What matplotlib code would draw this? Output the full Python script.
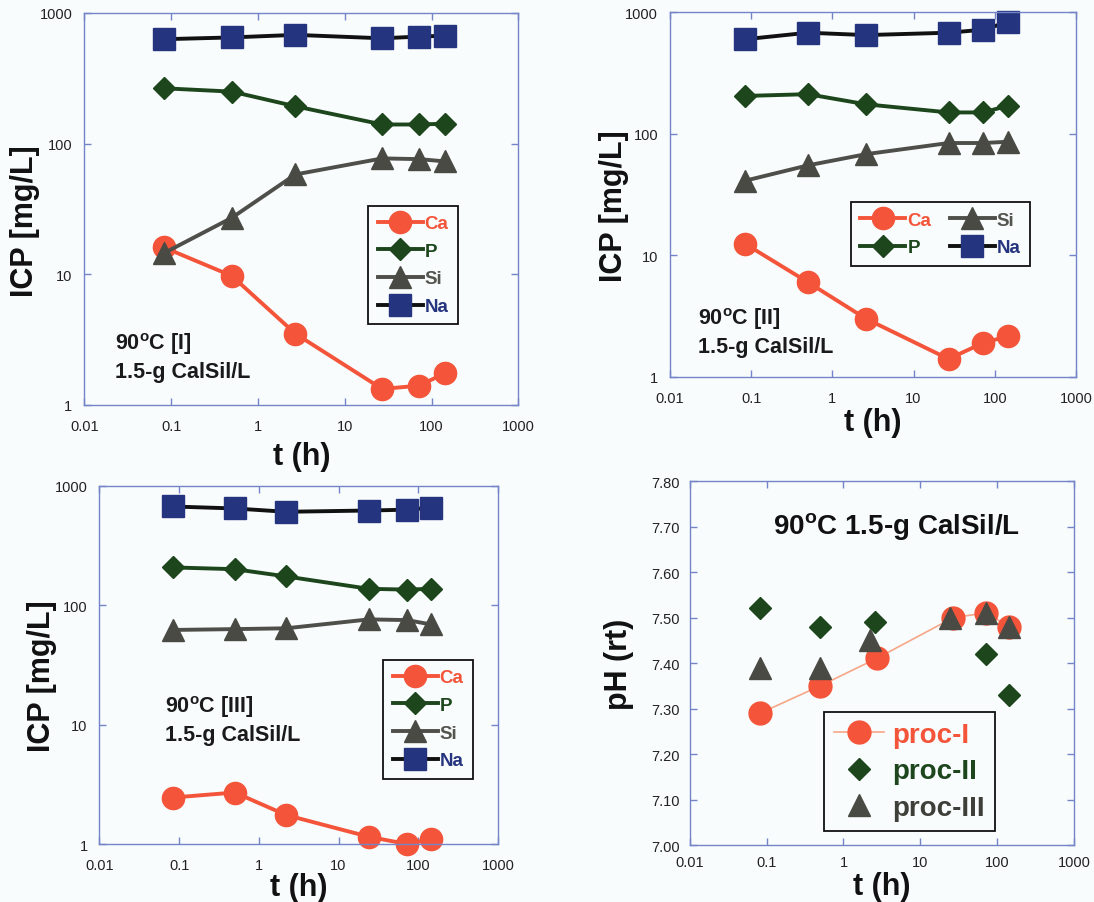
import numpy as np
import matplotlib
matplotlib.use("Agg")
import matplotlib.pyplot as plt
from matplotlib.ticker import FixedLocator, NullLocator

plt.rcParams['font.family'] = ['Liberation Sans', 'DejaVu Sans']
plt.rcParams['mathtext.fontset'] = 'custom'
plt.rcParams['mathtext.rm'] = 'Liberation Sans:bold'
plt.rcParams['mathtext.bf'] = 'Liberation Sans:bold'

# sampling times (h) for the three procedures
t_I = [0.083, 0.5, 2.7, 27, 72, 144]
t_II = [0.083, 0.5, 2.6, 27, 72, 144]
t_III = [0.083, 0.5, 2.2, 24, 72, 144]

# ICP concentrations (mg/L), procedure I
ca_I = [16, 9.7, 3.5, 1.32, 1.4, 1.75]
p_I = [265, 250, 193, 140, 140, 142]
si_I = [14.5, 27, 58, 77, 76, 73]
na_I = [630, 650, 680, 640, 660, 670]

# procedure II
ca_II = [12.5, 6.0, 3.0, 1.4, 1.9, 2.15]
p_II = [205, 212, 175, 150, 150, 170]
si_II = [41, 55, 68, 84, 84, 86]
na_II = [600, 680, 650, 680, 720, 830]

# procedure III
ca_III = [2.45, 2.7, 1.75, 1.15, 1.0, 1.1]
p_III = [207, 200, 174, 137, 135, 137]
si_III = [62, 63, 64, 76, 75, 69]
na_III = [670, 645, 605, 620, 630, 655]

# pH at room temperature
ph_I = [7.29, 7.35, 7.41, 7.50, 7.51, 7.48]
ph_II = [7.52, 7.48, 7.49, 7.50, 7.42, 7.33]
ph_III = [7.39, 7.39, 7.45, 7.50, 7.51, 7.48]

elements = ['Ca', 'P', 'Si', 'Na']
x_ticks = [0.01, 0.1, 1, 10, 100, 1000]
x_ticklabels = ['0.01', '0.1', '1', '10', '100', '1000']
icp_ticks = [1, 10, 100, 1000]
icp_ticklabels = ['1', '10', '100', '1000']
ph_ticks = [7.0, 7.1, 7.2, 7.3, 7.4, 7.5, 7.6, 7.7, 7.8]
ph_ticklabels = ['7.00', '7.10', '7.20', '7.30', '7.40', '7.50', '7.60', '7.70', '7.80']

BG = '#f8fcfc'
SPINE = '#7484c8'
COL = {'Ca': '#f4553a', 'P': '#1d461d', 'Si': '#4a4a44', 'Na': '#25347e'}
LINE = {'Ca': '#f4553a', 'P': '#1d461d', 'Si': '#4e4e4a', 'Na': '#111111'}
MARK = {'Ca': 'o', 'P': 'D', 'Si': '^', 'Na': 's'}
MS = {'Ca': 16, 'P': 11, 'Si': 16, 'Na': 16.5}


def style_axes(ax, xpad, ypad):
    """Log time axis, inward ticks on all sides, bluish frame."""
    ax.set_facecolor(BG)
    ax.set_xscale('log')
    ax.set_xlim(0.01, 1000)
    ax.xaxis.set_major_locator(FixedLocator(x_ticks))
    ax.xaxis.set_minor_locator(NullLocator())
    ax.set_xticklabels(x_ticklabels)
    for s in ax.spines.values():
        s.set_color(SPINE)
        s.set_linewidth(1.0)
    ax.tick_params(axis='both', which='both', direction='in', length=5, width=1,
                   color=SPINE, top=True, right=True, labelsize=10.5,
                   labelcolor='#222222')
    ax.tick_params(axis='x', pad=xpad)
    ax.tick_params(axis='y', pad=ypad)
    ax.set_xlabel('t (h)', fontsize=22, fontweight='bold', color='#111111')


def icp_panel(rect, t, series, note, note_xy, leg_anchor, ncol, ylab_x, xlab_y):
    ax = fig.add_axes(rect)
    style_axes(ax, xpad=10, ypad=8.5)
    ax.set_yscale('log')
    ax.set_ylim(1, 1000)
    ax.yaxis.set_major_locator(FixedLocator(icp_ticks))
    ax.yaxis.set_minor_locator(NullLocator())
    ax.set_yticklabels(icp_ticklabels)

    for name, vals in zip(elements, series):
        ax.plot(t, vals, color=LINE[name], lw=2.8, marker=MARK[name], ms=MS[name],
                mfc=COL[name], mec=COL[name], label=name, clip_on=False)

    leg = ax.legend(loc='upper left', bbox_to_anchor=leg_anchor, ncol=ncol,
                    fancybox=False, framealpha=1, facecolor=BG, edgecolor='#111111',
                    prop={'weight': 'bold', 'size': 13.5}, handlelength=2.4,
                    handletextpad=0.1, labelspacing=0.56, borderpad=0.5,
                    borderaxespad=0, columnspacing=1.0)
    leg.get_frame().set_linewidth(1.3)
    for txt, name in zip(leg.get_texts(), elements):
        txt.set_color(COL[name] if name != 'Si' else '#55554f')

    ax.text(note_xy[0], note_xy[1], note, transform=ax.transAxes, fontsize=15.5,
            fontweight='bold', color='#1a1a1a', va='top', ha='left', linespacing=1.3)
    ax.set_ylabel('ICP [mg/L]', fontsize=22, fontweight='bold', color='#111111')
    ax.yaxis.set_label_coords(ylab_x, 0.47)
    ax.xaxis.set_label_coords(0.5, xlab_y)
    return ax


fig = plt.figure(figsize=(10.94, 9.03), dpi=100, facecolor=BG)

icp_panel([0.0770, 0.5507, 0.3969, 0.4338], t_I, [ca_I, p_I, si_I, na_I],
          '90$^{\\mathbf{o}}$C [I]\n1.5-g CalSil/L', (0.07, 0.19),
          (0.654, 0.508), 1, -0.102, -0.093)
icp_panel([0.6124, 0.5817, 0.3711, 0.4035], t_II, [ca_II, p_II, si_II, na_II],
          '90$^{\\mathbf{o}}$C [II]\n1.5-g CalSil/L', (0.07, 0.195),
          (0.446, 0.479), 2, -0.10, -0.082)
icp_panel([0.0908, 0.0642, 0.3644, 0.3968], t_III, [ca_III, p_III, si_III, na_III],
          '90$^{\\mathbf{o}}$C [III]\n1.5-g CalSil/L', (0.165, 0.42),
          (0.712, 0.514), 1, -0.107, -0.078)

# pH panel
ax = fig.add_axes([0.6305, 0.0631, 0.3512, 0.4031])
style_axes(ax, xpad=7, ypad=7)
ax.set_ylim(7.0, 7.8)
ax.yaxis.set_major_locator(FixedLocator(ph_ticks))
ax.yaxis.set_minor_locator(NullLocator())
ax.set_yticklabels(ph_ticklabels)
ax.plot(t_II, ph_II, ls='none', marker='D', ms=11, color=COL['P'],
        label='proc-II', zorder=3)
ax.plot(t_I, ph_I, color='#f7a688', lw=1.2, marker='o', ms=16.5,
        mfc=COL['Ca'], mec=COL['Ca'], label='proc-I', zorder=4)
ax.plot(t_III, ph_III, ls='none', marker='^', ms=16, color=COL['Si'],
        label='proc-III', zorder=5)
h, l = ax.get_legend_handles_labels()
order = [1, 0, 2]
leg = ax.legend([h[i] for i in order], [l[i] for i in order], loc='upper left',
                bbox_to_anchor=(0.35, 0.365), fancybox=False, framealpha=1,
                facecolor=BG, edgecolor='#111111',
                prop={'weight': 'bold', 'size': 20}, handlelength=1.8,
                handletextpad=0.3, labelspacing=0.38, borderpad=0.35,
                borderaxespad=0)
leg.get_frame().set_linewidth(1.3)
for txt, c in zip(leg.get_texts(), [COL['Ca'], COL['P'], '#3f3f3a']):
    txt.set_color(c)
ax.text(0.537, 0.876, '90$^{\\mathbf{o}}$C 1.5-g CalSil/L', transform=ax.transAxes,
        fontsize=20, fontweight='bold', color='#111111', ha='center', va='center')
ax.set_ylabel('pH (rt)', fontsize=22, fontweight='bold', color='#111111')
ax.yaxis.set_label_coords(-0.145, 0.5)
ax.xaxis.set_label_coords(0.5, -0.072)

fig.savefig('out.png', dpi=100, facecolor=BG)
